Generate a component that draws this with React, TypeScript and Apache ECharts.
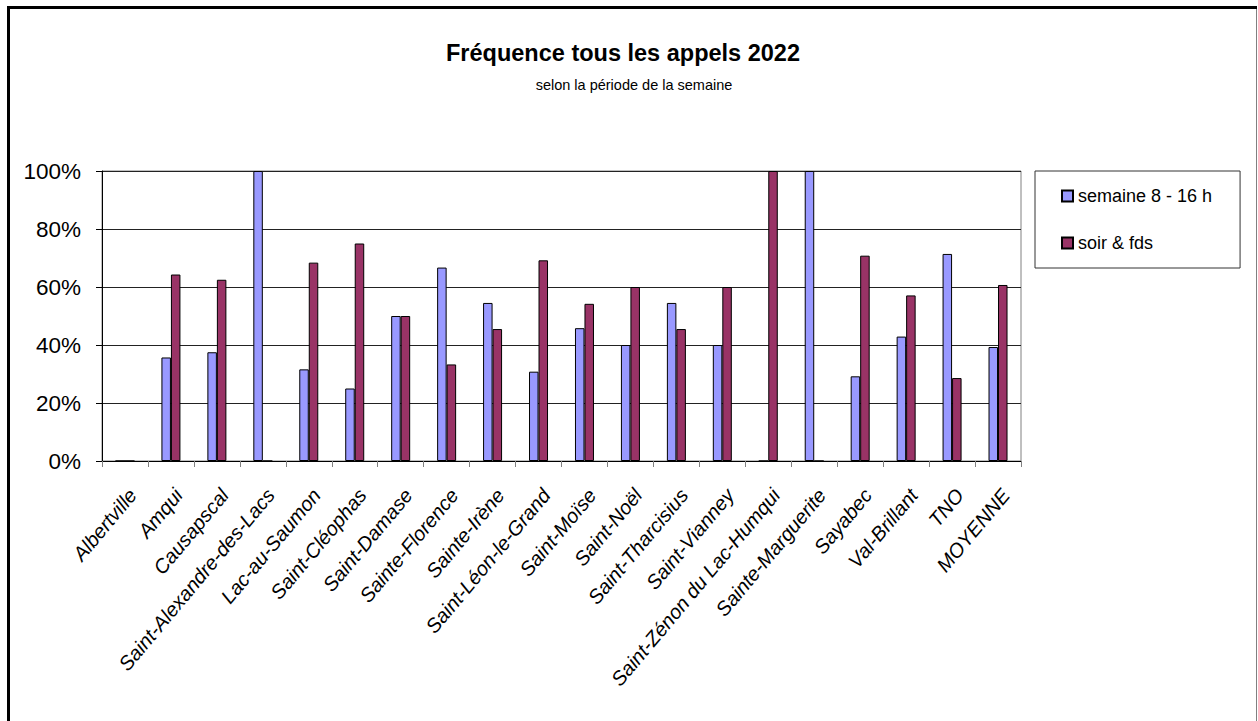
import React, { useEffect, useRef } from "react";
import * as echarts from "echarts";

const categories = [
  "Albertville", "Amqui", "Causapscal", "Saint-Alexandre-des-Lacs", "Lac-au-Saumon",
  "Saint-Cléophas", "Saint-Damase", "Sainte-Florence", "Sainte-Irène", "Saint-Léon-le-Grand",
  "Saint-Moïse", "Saint-Noël", "Saint-Tharcisius", "Saint-Vianney", "Saint-Zénon du Lac-Humqui",
  "Sainte-Marguerite", "Sayabec", "Val-Brillant", "TNO", "MOYENNE",
];
const semaine = [0, 35.7, 37.5, 100, 31.6, 25, 50, 66.7, 54.5, 30.8, 45.8, 40, 54.5, 40, 0, 100, 29.2, 42.9, 71.4, 39.3];
const soir = [0, 64.3, 62.5, 0, 68.4, 75, 50, 33.3, 45.5, 69.2, 54.2, 60, 45.5, 60, 100, 0, 70.8, 57.1, 28.6, 60.7];
const seriesNames = ["semaine 8 - 16 h", "soir & fds"];
const yTicks = [0, 20, 40, 60, 80, 100];

export default function App() {
  const ref = useRef<HTMLDivElement>(null);
  useEffect(() => {
    if (!ref.current) return;
    const chart = echarts.init(ref.current, undefined, { renderer: "svg" });
    const font = "Arial, 'Liberation Sans', sans-serif";
    chart.setOption({
      animation: false,
      backgroundColor: "#ffffff",
      title: [
        {
          text: "Fréquence tous les appels 2022",
          left: 618,
          textAlign: "center",
          top: 36,
          textStyle: { fontFamily: font, fontWeight: "bold", fontSize: 23.5, color: "#000" },
        },
        {
          text: "selon la période de la semaine",
          left: 629,
          textAlign: "center",
          top: 72,
          textStyle: { fontFamily: font, fontWeight: "normal", fontSize: 14.5, color: "#000" },
        },
      ],
      legend: {
        orient: "vertical",
        left: 1035,
        top: 171,
        padding: [16, 28, 16, 26],
        itemGap: 29,
        itemWidth: 11,
        itemHeight: 11,
        icon: "rect",
        borderColor: "#333",
        borderWidth: 1,
        data: seriesNames,
        textStyle: { fontFamily: font, fontSize: 18, color: "#000" },
      },
      grid: {
        left: 102,
        right: 237,
        top: 171,
        bottom: 260,
        show: true,
        borderColor: "#808080",
        borderWidth: 1,
        containLabel: false,
      },
      xAxis: {
        type: "category",
        data: categories,
        axisLine: { lineStyle: { color: "#000", width: 1 } },
        axisTick: { show: true, length: 6, lineStyle: { color: "#808080" } },
        axisLabel: {
          interval: 0,
          rotate: 50,
          margin: 24,
          align: "right",
          verticalAlign: "top",
          fontFamily: font,
          fontStyle: "italic",
          fontSize: 20,
          color: "#000",
        },
      },
      yAxis: {
        type: "value",
        min: yTicks[0],
        max: yTicks[yTicks.length - 1],
        interval: 20,
        axisLine: { show: true, lineStyle: { color: "#000", width: 1 } },
        axisTick: { show: true, length: 6, lineStyle: { color: "#000" } },
        axisLabel: {
          formatter: "{value}%",
          margin: 21,
          fontFamily: font,
          fontSize: 22.5,
          color: "#000",
        },
        splitLine: { show: true, lineStyle: { color: "#222", width: 1 } },
      },
      series: [
        {
          name: seriesNames[0],
          type: "bar",
          data: semaine,
          barWidth: 9.5,
          barGap: "0%",
          itemStyle: { color: "#9999FF", borderColor: "#000", borderWidth: 1 },
        },
        {
          name: seriesNames[1],
          type: "bar",
          data: soir,
          barWidth: 9.5,
          barGap: "0%",
          itemStyle: { color: "#993366", borderColor: "#000", borderWidth: 1 },
        },
      ],
      graphic: [
        { type: "line", shape: { x1: 8.5, y1: 6, x2: 8.5, y2: 721 }, style: { stroke: "#000", lineWidth: 3 } },
        { type: "line", shape: { x1: 7, y1: 7.5, x2: 1257, y2: 7.5 }, style: { stroke: "#000", lineWidth: 3 } },
        { type: "line", shape: { x1: 1256.5, y1: 9, x2: 1256.5, y2: 721 }, style: { stroke: "#808080", lineWidth: 1 } },
      ],
    });
    return () => chart.dispose();
  }, []);
  return (
    <div
      ref={ref}
      style={{ position: "absolute", left: 0, top: 0, width: 1258, height: 721 }}
    />
  );
}
